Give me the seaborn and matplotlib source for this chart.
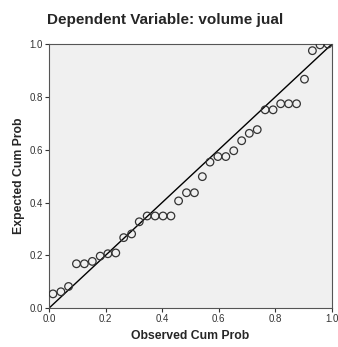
import numpy as np
import pandas as pd
import matplotlib
matplotlib.use('Agg')
import matplotlib.pyplot as plt
import seaborn as sns

# observed vs expected cumulative probability
observed = [0.014, 0.042, 0.069, 0.097, 0.125, 0.153, 0.181, 0.208, 0.236, 0.264,
            0.292, 0.319, 0.347, 0.375, 0.403, 0.431, 0.458, 0.486, 0.514, 0.542,
            0.569, 0.597, 0.625, 0.653, 0.681, 0.708, 0.736, 0.764, 0.792, 0.819,
            0.847, 0.875, 0.903, 0.931, 0.958, 0.986]
expected = [0.054, 0.062, 0.082, 0.168, 0.168, 0.177, 0.197, 0.206, 0.209, 0.267,
            0.281, 0.327, 0.349, 0.349, 0.349, 0.349, 0.406, 0.437, 0.437, 0.498,
            0.553, 0.574, 0.574, 0.596, 0.634, 0.662, 0.676, 0.751, 0.751, 0.774,
            0.774, 0.774, 0.867, 0.975, 0.997, 1.0]
ticks = [0.0, 0.2, 0.4, 0.6, 0.8, 1.0]
tick_labels = ['0.0', '0.2', '0.4', '0.6', '0.8', '1.0']

df = pd.DataFrame({'Observed Cum Prob': observed, 'Expected Cum Prob': expected})

sns.set_style('white')
plt.rcParams['font.family'] = ['Liberation Sans', 'DejaVu Sans']

fig = plt.figure(figsize=(3.38, 3.47), dpi=100)
ax = fig.add_axes([0.145, 0.112, 0.837, 0.761])
ax.set_facecolor('#f0f0f0')

sns.lineplot(x=[0, 1], y=[0, 1], color='black', linewidth=1.0, ax=ax)
sns.scatterplot(data=df, x='Observed Cum Prob', y='Expected Cum Prob', ax=ax,
                marker='o', s=30, facecolors='none', edgecolor='#333333',
                linewidth=0.9, zorder=3)

ax.set_xlim(0, 1)
ax.set_ylim(0, 1)
ax.set_xticks(ticks)
ax.set_xticklabels(tick_labels)
ax.set_yticks(ticks)
ax.set_yticklabels(tick_labels)
ax.tick_params(axis='both', direction='out', length=3, width=0.8, labelsize=7,
               colors='#333333', pad=1.5, bottom=True, left=True)
for sp in ax.spines.values():
    sp.set_color('#555555')
    sp.set_linewidth(0.8)

ax.set_xlabel('Observed Cum Prob', fontsize=8.8, fontweight='bold', labelpad=4)
ax.set_ylabel('Expected Cum Prob', fontsize=8.8, fontweight='bold', labelpad=3)
fig.text(0.488, 0.942, 'Dependent Variable: volume jual', ha='center', va='center',
         fontsize=11, fontweight='bold')

plt.savefig('out.png', dpi=100)
